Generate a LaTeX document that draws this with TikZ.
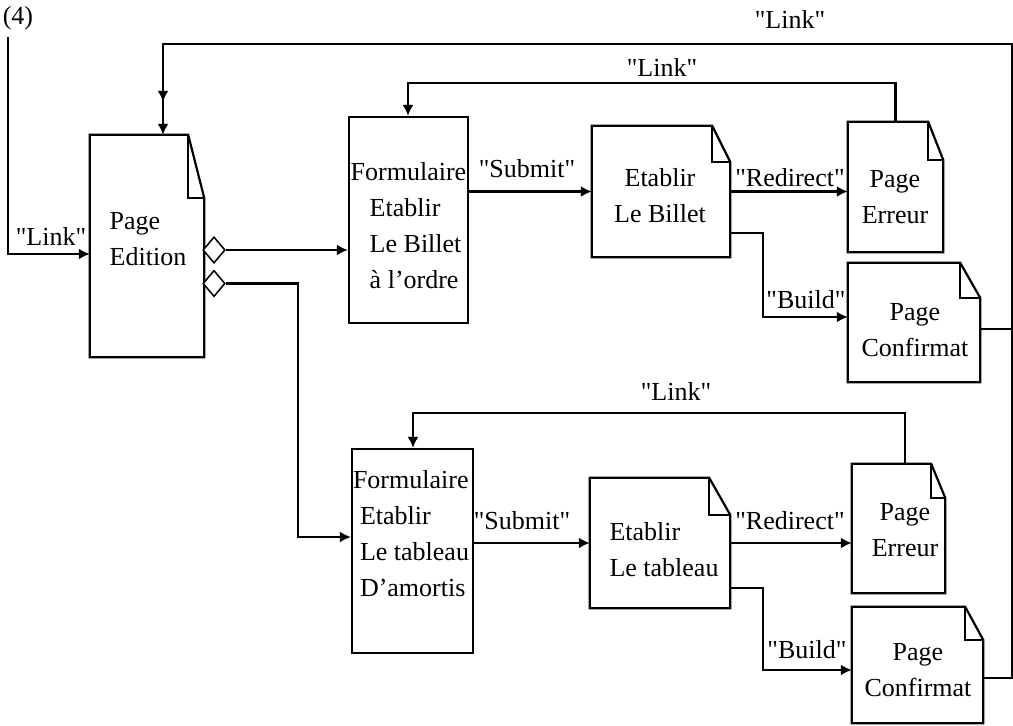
\documentclass[tikz,border=0pt]{standalone}
\usepackage{fontspec}
\setmainfont{Liberation Serif}[Ligatures=TeXOff]
\usetikzlibrary{arrows.meta,shapes.geometric,decorations.markings}

\tikzset{
  frame/.style={rectangle, inner sep=0pt, minimum width=#1},
  formbox/.style={draw, line width=2.2pt},
  pageline/.style={line width=2.2pt, line join=miter},
  foldline/.style={line width=1.8pt},
  txt/.style={inner sep=0pt, font=\fontsize{26}{36}\selectfont, align=center},
  txtl/.style={txt, align=left},
  lbl/.style={inner sep=0pt, font=\fontsize{26}{30}\selectfont},
  conn/.style={line width=2.4pt, -{Latex[length=11pt,width=11pt]}},
  plain/.style={line width=2.4pt},
  choice/.style={diamond, draw, fill=white, line width=1.4pt, inner sep=0pt,
                 minimum width=22pt, minimum height=26pt},
}

% page outline with a folded corner: node, fold width, fold height
\newcommand{\dogear}[3]{%
  \draw[pageline] (#1.north west) -- ([xshift=-#2pt]#1.north east)
    -- ([yshift=-#3pt]#1.north east) -- (#1.south east)
    -- (#1.south west) -- cycle;
  \draw[foldline] ([xshift=-#2pt]#1.north east) |- ([yshift=-#3pt]#1.north east);
}

\begin{document}
\begin{tikzpicture}[x=1pt,y=-1pt]
\useasboundingbox (0,0) rectangle (1013,726);

% ---- boxes ----
\node[frame=114pt, minimum height=222pt] (pe) at (147,246) {};
\node[frame=119pt, minimum height=206pt, formbox] (f1) at (408.5,220) {};
\node[frame=138pt, minimum height=131pt] (e1) at (661,191.5) {};
\node[frame=95pt,  minimum height=130pt] (r1) at (895.5,187) {};
\node[frame=132pt, minimum height=119pt] (c1) at (914,322.5) {};
\node[frame=121pt, minimum height=204pt, formbox] (f2) at (412.5,551) {};
\node[frame=140pt, minimum height=130pt] (e2) at (660,543) {};
\node[frame=93pt,  minimum height=129pt] (r2) at (898.5,528.5) {};
\node[frame=131pt, minimum height=116pt] (c2) at (917.5,665) {};

\dogear{pe}{16}{63}
\dogear{e1}{18}{36}
\dogear{r1}{15}{38}
\dogear{c1}{20}{35}
\dogear{e2}{21}{37}
\dogear{r2}{14}{34}
\dogear{c2}{18}{33}

% ---- box texts ----
\node[txtl] (peT) at (148,239) {Page\\Edition};
\node[txtl] (f1T) at (408.5,226) {Formulaire\\\hspace*{19pt}Etablir\\\hspace*{19pt}Le Billet\\\hspace*{19pt}à l’ordre};
\node[txt]  (e1T) at (660,196) {Etablir\\Le Billet};
\node[txt]  (r1T) at (895,197) {Page\\Erreur};
\node[txt]  (c1T) at (915,330) {Page\\Confirmat};
\node[txtl] (f2T) at (411,534) {Formulaire\\\hspace*{7pt}Etablir\\\hspace*{7pt}Le tableau\\\hspace*{7pt}D’amortis};
\node[txtl] (e2T) at (664,550) {Etablir\\Le tableau};
\node[txt]  (r2T) at (905,530) {Page\\Erreur};
\node[txt]  (c2T) at (918,670) {Page\\Confirmat};

% ---- helper points ----
\coordinate (in0)  at (8,37);
\coordinate (j2)   at (298,537);
\coordinate (b1)   at (763,317);
\coordinate (b2)   at (763,670);
\coordinate (l1)   at (408,83);
\coordinate (l2)   at (413,413);
\coordinate (rail) at (1012,44);
\coordinate (pin)  at ([xshift=16pt]pe.north);
\coordinate (c1o)  at ([yshift=-6.5pt]c1.east);
\coordinate (c2o)  at ([yshift=-13pt]c2.east);
\coordinate (e1b)  at ([yshift=-41.5pt]e1.east);
\coordinate (e2b)  at ([yshift=-45pt]e2.east);
\coordinate (r2t)  at ([xshift=6.5pt]r2.north);

% ---- connectors ----
\draw[conn] (in0) |- ([yshift=-8pt]pe.west);

\node[choice] (d1) at (214,250) {};
\node[choice] (d2) at (214,283.5) {};

\draw[conn] (d1.east) -- (d1.east -| f1.west);
\draw[conn] (d2.east) -| (j2) -- (j2 -| f2.west);

\draw[conn] (e1.west -| f1.east) -- (e1.west);
\draw[conn] (e1.east) -- (e1.east -| r1.west);
\draw[conn] (e1b) -| (b1) -- (b1 -| c1.west);
\draw[conn] (r1.north) |- (l1) -- (l1 |- f1.north);

\draw[conn] (e2.west -| f2.east) -- (e2.west);
\draw[conn] (e2.east) -- (e2.east -| r2.west);
\draw[conn] (e2b) -| (b2) -- (b2 -| c2.west);
\draw[conn] (r2t) |- (l2) -- (l2 |- f2.north);

\draw[plain] (c1o) -- (c1o -| rail);
\draw[conn, postaction={decorate, decoration={markings,
      mark=at position -33pt with {\arrow{Latex[length=11pt,width=11pt]}}}}]
  (c2o) -| (rail) -- (rail -| pin) -- (pin);

% redraw the choice points on top
\node[choice] at (d1) {};
\node[choice] at (d2) {};

% ---- labels ----
\node[lbl] (n4)  at (18,18)   {(4)};
\node[lbl] (lk0) at (51,236)  {"Link"};
\node[lbl] (lkT) at (790,19)  {"Link"};
\node[lbl] (lk1) at (662,67)  {"Link"};
\node[lbl] (sb1) at (527,169) {"Submit"};
\node[lbl] (rd1) at (790,178) {"Redirect"};
\node[lbl] (bd1) at (806,300) {"Build"};
\node[lbl] (lk2) at (676,391) {"Link"};
\node[lbl] (sb2) at (522,521) {"Submit"};
\node[lbl] (rd2) at (790,521) {"Redirect"};
\node[lbl] (bd2) at (807,650) {"Build"};
\end{tikzpicture}
\end{document}
